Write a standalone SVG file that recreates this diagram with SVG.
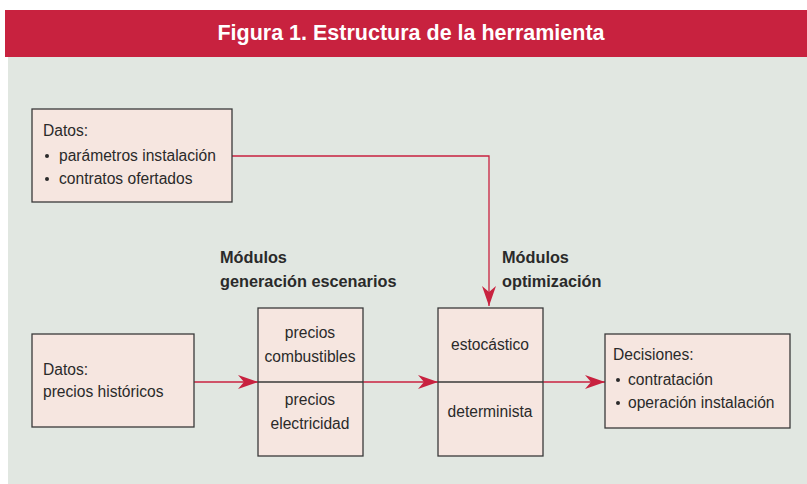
<svg xmlns="http://www.w3.org/2000/svg" width="807" height="484" viewBox="0 0 807 484">
<defs>
<style>
.box{fill:#F6E6E0;stroke:#3a3a3a;stroke-width:1.3}
.t{font-family:"Liberation Sans",Arial,sans-serif;font-size:15.6px;fill:#2a2a2a}
.c{text-anchor:middle}
.b{font-family:"Liberation Sans",Arial,sans-serif;font-size:16.3px;font-weight:bold;fill:#2a2a2a}
.conn{fill:none;stroke:#C8223F;stroke-width:1.3}
</style>
<marker id="ah" viewBox="0 0 20 14" refX="20" refY="7" markerWidth="20" markerHeight="14" markerUnits="userSpaceOnUse" orient="auto">
<path d="M0,0 L20,7 L0,14 L6,7 Z" fill="#C8223F"/>
</marker>
</defs>
<rect x="0" y="0" width="807" height="484" fill="#ffffff"/>
<rect x="8" y="57" width="799" height="427" fill="#E1E7E1"/>
<rect x="5" y="10" width="802" height="47" fill="#C8223F"/>
<text x="411" y="40" text-anchor="middle" font-family="'Liberation Sans',Arial,sans-serif" font-size="21.5" font-weight="bold" fill="#ffffff">Figura 1. Estructura de la herramienta</text>

<g id="connectors">
<path class="conn" d="M232,156 H489 V306" marker-end="url(#ah)"/>
<path class="conn" d="M194,382 H258" marker-end="url(#ah)"/>
<path class="conn" d="M363,382 H438" marker-end="url(#ah)"/>
<path class="conn" d="M543,382 H605" marker-end="url(#ah)"/>
</g>

<g id="datos-instalacion">
<rect class="box" x="32" y="109" width="200" height="93"/>
<text class="t" x="43" y="136">Datos:</text>
<circle cx="47" cy="156" r="2" fill="#2a2a2a"/>
<text class="t" x="59" y="161">parámetros instalación</text>
<circle cx="47" cy="179" r="2" fill="#2a2a2a"/>
<text class="t" x="59" y="184">contratos ofertados</text>
</g>

<g id="datos-precios">
<rect class="box" x="32" y="334" width="162" height="93"/>
<text class="t" x="43" y="375">Datos:</text>
<text class="t" x="43" y="397">precios históricos</text>
</g>

<g id="label-generacion">
<text class="b" x="220" y="263">Módulos</text>
<text class="b" x="220" y="287">generación escenarios</text>
</g>

<g id="modulos-generacion">
<rect class="box" x="258" y="308" width="105" height="148"/>
<line x1="258" y1="382" x2="363" y2="382" stroke="#3a3a3a" stroke-width="1.3"/>
<text class="t c" x="310" y="338">precios</text>
<text class="t c" x="310" y="362">combustibles</text>
<text class="t c" x="310" y="405">precios</text>
<text class="t c" x="310" y="429">electricidad</text>
</g>

<g id="label-optimizacion">
<text class="b" x="502" y="263">Módulos</text>
<text class="b" x="502" y="287">optimización</text>
</g>

<g id="modulos-optimizacion">
<rect class="box" x="438" y="308" width="105" height="148"/>
<line x1="438" y1="382" x2="543" y2="382" stroke="#3a3a3a" stroke-width="1.3"/>
<text class="t c" x="490" y="350">estocástico</text>
<text class="t c" x="490" y="417">determinista</text>
</g>

<g id="decisiones">
<rect class="box" x="605" y="334" width="185" height="94"/>
<text class="t" x="613" y="360">Decisiones:</text>
<circle cx="618" cy="380" r="2" fill="#2a2a2a"/>
<text class="t" x="628" y="385">contratación</text>
<circle cx="618" cy="403" r="2" fill="#2a2a2a"/>
<text class="t" x="628" y="408">operación instalación</text>
</g>
</svg>
